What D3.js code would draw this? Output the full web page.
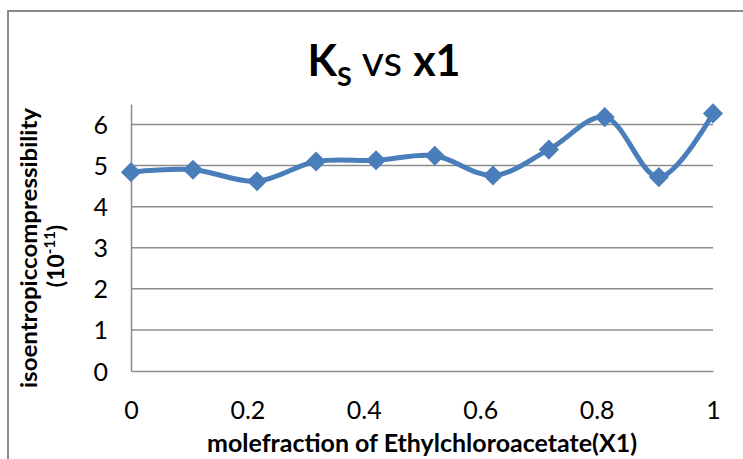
<!DOCTYPE html>
<meta charset="utf-8">
<html>
<style>
 body { margin:0; background:#fff; }
 svg text { font-family: Lato, "Open Sans", sans-serif; fill:#000; }
</style>
<script src="https://d3js.org/d3.v7.min.js"></script>
<body>
<svg width="743" height="459"></svg>
<script>
// values
const moleFraction = [0, 0.1065, 0.2165, 0.318, 0.421, 0.522, 0.622, 0.718, 0.814, 0.907, 1]
const ks = [4.84, 4.90, 4.62, 5.10, 5.13, 5.24, 4.76, 5.39, 6.18, 4.72, 6.27]
const xTicks = [0, 0.2, 0.4, 0.6, 0.8, 1]
const yTicks = [0, 1, 2, 3, 4, 5, 6]

const svg = d3.select('svg')

// chart border
svg.append('rect')
	.attr('x', 8).attr('y', 11)
	.attr('width', 760).attr('height', 470)
	.attr('fill', 'none')
	.attr('stroke', '#8c8c8c')
	.attr('stroke-width', 2)

const plotLeft = 131, plotRight = 713, plotTop = 104, plotBottom = 371

const x = d3.scaleLinear().domain([0, 1]).range([plotLeft, plotRight])
const y = d3.scaleLinear().domain([0, 6.5]).range([plotBottom, plotTop])

// gridlines
svg.append('g')
	.selectAll('line')
	.data(yTicks.filter(d => d > 0))
	.join('line')
	.attr('x1', plotLeft).attr('x2', plotRight)
	.attr('y1', d => y(d)).attr('y2', d => y(d))
	.attr('stroke', '#8c8c8c')
	.attr('stroke-width', 1.5)

// axes
const yAxis = svg.append('g')
	.attr('transform', `translate(${plotLeft},0)`)
	.call(d3.axisLeft(y).tickValues(yTicks).tickSize(0).tickPadding(23).tickFormat(d3.format('d')))
yAxis.select('.domain').attr('stroke', '#8c8c8c').attr('stroke-width', 1.5)
yAxis.selectAll('.tick text').attr('font-size', 25).attr('fill', '#000').attr('dy', '0.36em')

const xAxis = svg.append('g')
	.attr('transform', `translate(0,${plotBottom})`)
	.call(d3.axisBottom(x).tickValues(xTicks).tickSize(0).tickPadding(30).tickFormat(d => d))
xAxis.select('.domain').attr('stroke', '#8c8c8c').attr('stroke-width', 1.5)
xAxis.selectAll('.tick text').attr('font-size', 25).attr('fill', '#000')

// smoothed line
const line = d3.line()
	.x((d, i) => x(moleFraction[i]))
	.y(d => y(d))
	.curve(d3.curveCatmullRom.alpha(0.5))

svg.append('path')
	.datum(ks)
	.attr('d', line)
	.attr('fill', 'none')
	.attr('stroke', '#4a7ebb')
	.attr('stroke-width', 5)

svg.append('g')
	.selectAll('path')
	.data(ks)
	.join('path')
	.attr('d', d3.symbol().type(d3.symbolDiamond2).size(260))
	.attr('transform', (d, i) => `translate(${x(moleFraction[i])},${y(d)})`)
	.attr('fill', '#4a7ebb')

// title
const title = svg.append('text')
	.attr('x', 384).attr('y', 76)
	.attr('text-anchor', 'middle')
	.attr('font-size', 43)
title.append('tspan').attr('font-weight', 'bold').text('K')
title.append('tspan').attr('font-weight', 'bold').attr('font-size', 27).attr('dy', 10).text('S')
title.append('tspan').attr('dy', -10).text(' vs ')
title.append('tspan').attr('font-weight', 'bold').text('x1')

// axis titles
svg.append('text')
	.attr('x', 422).attr('y', 452)
	.attr('text-anchor', 'middle')
	.attr('font-size', 24)
	.attr('font-weight', 'bold')
	.attr('textLength', 430)
	.attr('lengthAdjust', 'spacingAndGlyphs')
	.text('molefraction of Ethylchloroacetate(X1)')

const yTitle = svg.append('text')
	.attr('transform', 'translate(37,248) rotate(-90)')
	.attr('text-anchor', 'middle')
	.attr('font-size', 23)
	.attr('font-weight', 'bold')
yTitle.append('tspan').attr('x', 0).attr('y', 0)
	.attr('textLength', 280)
	.attr('lengthAdjust', 'spacingAndGlyphs')
	.text('isoentropiccompressibility')
const l2 = yTitle.append('tspan').attr('x', -8).attr('y', 27)
l2.append('tspan').text('(10')
l2.append('tspan').attr('font-size', 15).attr('dy', -9).text('-11')
l2.append('tspan').attr('dy', 9).text(')')
</script>
</body>
</html>
